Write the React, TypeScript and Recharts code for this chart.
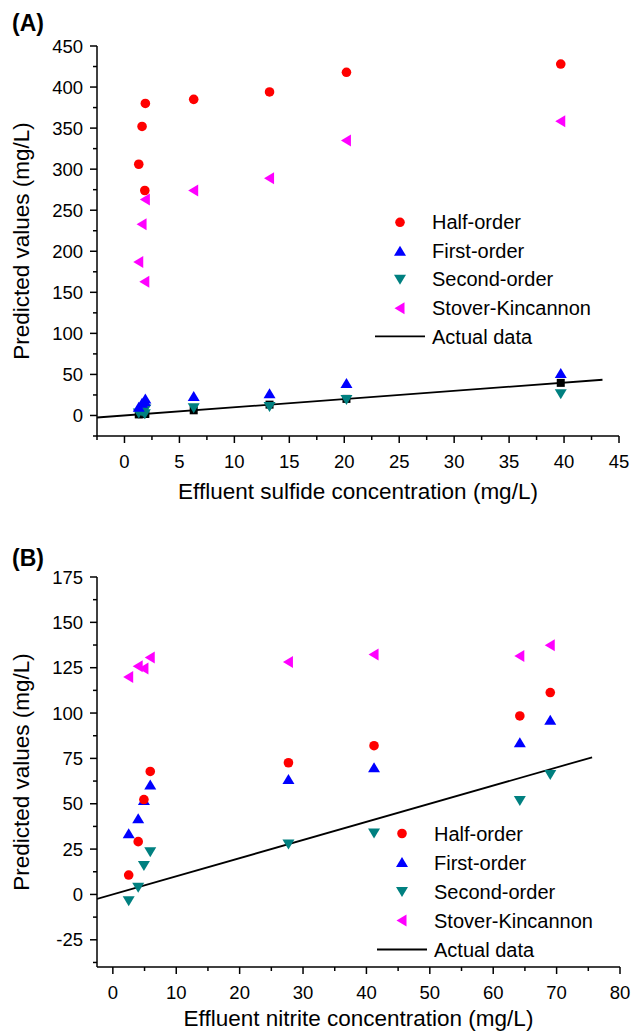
import React from 'react';
import { Label, Legend, Scatter, ScatterChart, XAxis, YAxis } from 'recharts';

// (A) effluent sulfide vs predicted values
const sulfideConc = [1.3, 1.6, 1.9, 1.85, 6.3, 13.2, 20.2, 39.7];
const halfOrderA = [306, 352, 380, 274, 385, 394, 418, 428];
const firstOrderA = [10, 15, 20, 17, 23, 26.5, 39, 51];
const secondOrderA = [3, 5, 8, 2, 9.5, 11, 19.5, 26.5];
const stoverA = [187, 233, 263, 163, 274, 289, 335, 358.5];
const actualLineA = [-2.5, 43.5];

// (B) effluent nitrite vs predicted values
const nitriteConc = [2.5, 4.0, 4.9, 5.9, 27.7, 41.2, 64.2, 69.0];
const halfOrderB = [10.7, 29.1, 52.3, 67.8, 72.6, 82.0, 98.4, 111.3];
const firstOrderB = [33.4, 41.7, 51.8, 60.4, 63.4, 69.8, 83.6, 96.0];
const secondOrderB = [-3.5, 3.9, 15.9, 23.6, 27.8, 33.9, 51.8, 66.1];
const stoverB = [119.9, 125.8, 124.5, 130.6, 128.2, 132.3, 131.5, 137.4];
const actualLineB = [-2.5, 75.6];

// ticks
const xMajorA = [0, 5, 10, 15, 20, 25, 30, 35, 40, 45];
const xMinorA = [-2.5, 2.5, 7.5, 12.5, 17.5, 22.5, 27.5, 32.5, 37.5, 42.5];
const yMajorA = [0, 50, 100, 150, 200, 250, 300, 350, 400, 450];
const yMinorA = [-25, 25, 75, 125, 175, 225, 275, 325, 375, 425];
const xMajorB = [0, 10, 20, 30, 40, 50, 60, 70, 80];
const xMinorB = [5, 15, 25, 35, 45, 55, 65, 75];
const yMajorB = [-25, 0, 25, 50, 75, 100, 125, 150, 175];
const yMinorB = [-37.5, -12.5, 12.5, 37.5, 62.5, 87.5, 112.5, 137.5, 162.5];

const legendNames = ['Half-order', 'First-order', 'Second-order', 'Stover-Kincannon', 'Actual data'];

const FONT = '"Liberation Sans", Arial, sans-serif';

const toPoints = (xs: number[], ys: number[]) => xs.map((x, i) => ({ x, y: ys[i] }));
const sorted = (a: number[], b: number[]) => [...a, ...b].sort((m, n) => m - n);

const RedCircle = (p: any) => <circle cx={p.cx} cy={p.cy} r={4.8} fill='#ff0000' />;
const BlueUp = (p: any) => (
  <polygon
    points={`${p.cx},${p.cy - 5.5} ${p.cx - 6},${p.cy + 4.5} ${p.cx + 6},${p.cy + 4.5}`}
    fill='#0000ff'
  />
);
const TealDown = (p: any) => (
  <polygon
    points={`${p.cx},${p.cy + 5.5} ${p.cx - 6},${p.cy - 4.5} ${p.cx + 6},${p.cy - 4.5}`}
    fill='#008080'
  />
);
const MagentaLeft = (p: any) => (
  <polygon
    points={`${p.cx - 5.5},${p.cy} ${p.cx + 4.5},${p.cy - 6} ${p.cx + 4.5},${p.cy + 6}`}
    fill='#ff00ff'
  />
);
const BlackSquare = (p: any) => (
  <rect x={p.cx - 4} y={p.cy - 4} width={8} height={8} fill='#000' />
);
const NoMark = () => <g />;

const markers = [RedCircle, BlueUp, TealDown, MagentaLeft];

const makeXTick = (majors: number[]) => (props: any) => {
  const { x, y, payload } = props;
  const major = majors.includes(payload.value);
  return (
    <g>
      <line x1={x} x2={x} y1={y} y2={y + (major ? 7 : 4)} stroke='#000' strokeWidth={1.5} />
      {major && (
        <text x={x} y={y + 31.5} textAnchor='middle' fontSize={18.5} fill='#000'>
          {payload.value}
        </text>
      )}
    </g>
  );
};

const makeYTick = (majors: number[]) => (props: any) => {
  const { x, y, payload } = props;
  const major = majors.includes(payload.value);
  return (
    <g>
      <line x1={x - (major ? 7 : 4)} x2={x} y1={y} y2={y} stroke='#000' strokeWidth={1.5} />
      {major && (
        <text x={x - 14} y={y} dy='0.36em' textAnchor='end' fontSize={18.5} fill='#000'>
          {payload.value}
        </text>
      )}
    </g>
  );
};

function LegendBox({ rowHeight }: { rowHeight: number }) {
  return (
    <div style={{ fontFamily: FONT, fontSize: 20, color: '#000' }}>
      {legendNames.map((name, i) => {
        const Marker = markers[i];
        return (
          <div key={name} style={{ display: 'flex', alignItems: 'center', height: rowHeight }}>
            <svg width={50} height={rowHeight} style={{ display: 'block' }}>
              {Marker ? (
                <Marker cx={25} cy={rowHeight / 2} />
              ) : (
                <line x1={0} x2={50} y1={rowHeight / 2} y2={rowHeight / 2} stroke='#000' strokeWidth={1.8} />
              )}
            </svg>
            <span style={{ marginLeft: 7, whiteSpace: 'nowrap', lineHeight: 1 }}>{name}</span>
          </div>
        );
      })}
    </div>
  );
}

type PanelProps = {
  top: number;
  marginTop: number;
  marginRight: number;
  xAxisHeight: number;
  titleOffset: number;
  xConc: number[];
  half: number[];
  first: number[];
  second: number[];
  stover: number[];
  actualLine: number[];
  showActualPoints: boolean;
  xDomain: [number, number];
  yDomain: [number, number];
  xMajor: number[];
  xMinor: number[];
  yMajor: number[];
  yMinor: number[];
  xTitle: string;
  legendLeft: number;
  legendTop: number;
  rowHeight: number;
};

function Panel(p: PanelProps) {
  const axisLine = { stroke: '#000', strokeWidth: 1.5 };
  return (
    <div style={{ position: 'absolute', left: 0, top: p.top }}>
      <ScatterChart
        width={632}
        height={516}
        margin={{ top: p.marginTop, right: p.marginRight, bottom: 0, left: 0 }}
      >
        <XAxis
          type='number'
          dataKey='x'
          domain={p.xDomain}
          ticks={sorted(p.xMajor, p.xMinor)}
          interval={0}
          allowDataOverflow
          height={p.xAxisHeight}
          tickSize={0}
          tickMargin={0}
          tickLine={false}
          axisLine={axisLine}
          tick={makeXTick(p.xMajor)}
        >
          <Label
            value={p.xTitle}
            position='insideBottom'
            offset={p.titleOffset}
            style={{ fontSize: 22.5, fill: '#000', fontFamily: FONT }}
          />
        </XAxis>
        <YAxis
          type='number'
          dataKey='y'
          domain={p.yDomain}
          ticks={sorted(p.yMajor, p.yMinor)}
          interval={0}
          allowDataOverflow
          width={97}
          tickSize={0}
          tickMargin={0}
          tickLine={false}
          axisLine={axisLine}
          tick={makeYTick(p.yMajor)}
        >
          <Label
            value='Predicted values (mg/L)'
            angle={-90}
            position='insideLeft'
            offset={21}
            style={{ fontSize: 22.5, fill: '#000', fontFamily: FONT, textAnchor: 'middle' }}
          />
        </YAxis>
        <XAxis
          xAxisId='top'
          orientation='top'
          type='number'
          domain={p.xDomain}
          ticks={p.xMajor}
          allowDataOverflow
          height={0}
          tick={false}
          tickSize={2}
          tickLine={{ stroke: '#000' }}
          axisLine={axisLine}
        />
        <YAxis
          yAxisId='right'
          orientation='right'
          type='number'
          domain={p.yDomain}
          ticks={p.yMajor}
          allowDataOverflow
          width={0}
          tick={false}
          tickSize={2}
          tickLine={{ stroke: '#000' }}
          axisLine={axisLine}
        />
        <Legend
          layout='vertical'
          align='center'
          verticalAlign='middle'
          wrapperStyle={{ left: p.legendLeft, top: p.legendTop }}
          content={() => <LegendBox rowHeight={p.rowHeight} />}
        />
        <Scatter
          name='Actual data'
          data={toPoints(p.actualLine, p.actualLine)}
          line={{ stroke: '#000', strokeWidth: 1.8 }}
          shape={NoMark}
          isAnimationActive={false}
        />
        {p.showActualPoints && (
          <Scatter
            name='Actual points'
            data={toPoints(p.xConc, p.xConc)}
            shape={BlackSquare}
            isAnimationActive={false}
          />
        )}
        <Scatter name='Second-order' data={toPoints(p.xConc, p.second)} shape={TealDown} isAnimationActive={false} />
        <Scatter name='First-order' data={toPoints(p.xConc, p.first)} shape={BlueUp} isAnimationActive={false} />
        <Scatter name='Stover-Kincannon' data={toPoints(p.xConc, p.stover)} shape={MagentaLeft} isAnimationActive={false} />
        <Scatter name='Half-order' data={toPoints(p.xConc, p.half)} shape={RedCircle} isAnimationActive={false} />
      </ScatterChart>
    </div>
  );
}

const panelLetter = (text: string, top: number) => (
  <div
    style={{
      position: 'absolute',
      left: 12,
      top,
      fontFamily: FONT,
      fontWeight: 'bold',
      fontSize: 23,
      lineHeight: 1,
      color: '#000',
    }}
  >
    {text}
  </div>
);

export default function App() {
  return (
    <div
      style={{
        position: 'absolute',
        left: 0,
        top: 0,
        width: 632,
        height: 1032,
        background: '#fff',
        fontFamily: FONT,
        overflow: 'hidden',
      }}
    >
      <Panel
        top={0}
        marginTop={46}
        marginRight={13}
        xAxisHeight={80}
        titleOffset={17}
        xConc={sulfideConc}
        half={halfOrderA}
        first={firstOrderA}
        second={secondOrderA}
        stover={stoverA}
        actualLine={actualLineA}
        showActualPoints
        xDomain={[-2.5, 45]}
        yDomain={[-25, 450]}
        xMajor={xMajorA}
        xMinor={xMinorA}
        yMajor={yMajorA}
        yMinor={yMinorA}
        xTitle='Effluent sulfide concentration (mg/L)'
        legendLeft={375}
        legendTop={208}
        rowHeight={28.6}
      />
      <Panel
        top={516}
        marginTop={61}
        marginRight={12}
        xAxisHeight={65}
        titleOffset={6}
        xConc={nitriteConc}
        half={halfOrderB}
        first={firstOrderB}
        second={secondOrderB}
        stover={stoverB}
        actualLine={actualLineB}
        showActualPoints={false}
        xDomain={[-2.5, 80]}
        yDomain={[-40, 175]}
        xMajor={xMajorB}
        xMinor={xMinorB}
        yMajor={yMajorB}
        yMinor={yMinorB}
        xTitle='Effluent nitrite concentration (mg/L)'
        legendLeft={377}
        legendTop={303}
        rowHeight={29}
      />
      {panelLetter('(A)', 12)}
      {panelLetter('(B)', 547)}
    </div>
  );
}
